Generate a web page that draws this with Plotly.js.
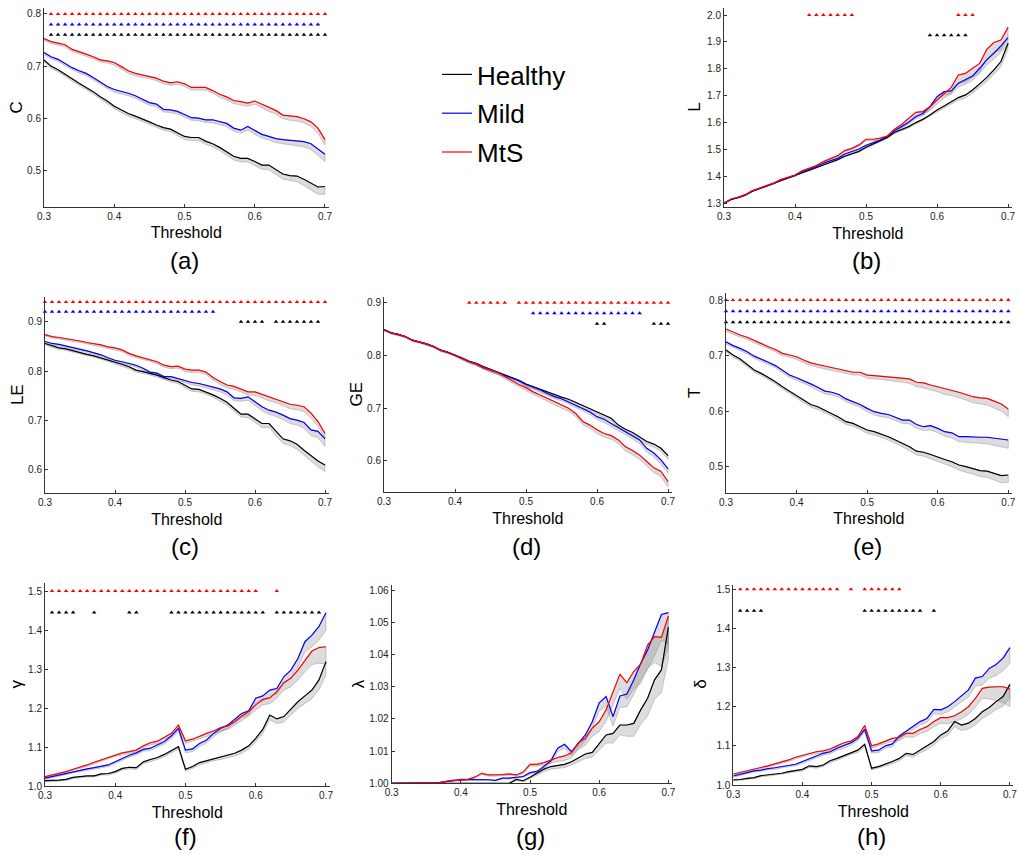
<!DOCTYPE html>
<html><head><meta charset="utf-8">
<script src="https://cdn.plot.ly/plotly-3.0.1.min.js"></script>
<style>html,body{margin:0;padding:0;background:#fff}#chart{width:1018px;height:857px}</style>
</head><body><div id="chart"></div>
<script>
// ---------------- DATA ----------------
const thr = [0.30,0.31,0.32,0.33,0.34,0.35,0.36,0.37,0.38,0.39,0.40,0.41,0.42,0.43,0.44,0.45,0.46,0.47,0.48,0.49,0.50,0.51,0.52,0.53,0.54,0.55,0.56,0.57,0.58,0.59,0.60,0.61,0.62,0.63,0.64,0.65,0.66,0.67,0.68,0.69,0.70];
const xTickVals = [0.3,0.4,0.5,0.6,0.7];
const xTickText = ['0.3','0.4','0.5','0.6','0.7'];
const groupNames = ['Healthy','Mild','MtS'];

// (a) C
const C_H = [0.712,0.700,0.693,0.684,0.675,0.667,0.659,0.651,0.641,0.633,0.623,0.616,0.609,0.604,0.599,0.593,0.587,0.582,0.579,0.572,0.565,0.563,0.563,0.556,0.551,0.544,0.536,0.527,0.523,0.523,0.517,0.510,0.510,0.501,0.493,0.490,0.489,0.483,0.476,0.468,0.469];
const C_M = [0.726,0.718,0.713,0.705,0.697,0.691,0.686,0.678,0.669,0.661,0.655,0.652,0.648,0.643,0.636,0.630,0.627,0.617,0.616,0.613,0.607,0.601,0.600,0.597,0.597,0.593,0.590,0.581,0.577,0.584,0.576,0.569,0.565,0.561,0.559,0.558,0.556,0.555,0.551,0.541,0.531];
const C_S = [0.753,0.747,0.744,0.741,0.732,0.728,0.723,0.718,0.712,0.710,0.707,0.699,0.691,0.686,0.683,0.681,0.677,0.671,0.668,0.670,0.666,0.659,0.659,0.659,0.653,0.646,0.641,0.634,0.632,0.629,0.633,0.627,0.620,0.615,0.606,0.604,0.603,0.599,0.593,0.581,0.559];
const C_H_err = [4,4,4,4,4,4,4,4,4,5,5,5,5,5,5,5,5,5,5,6,6,6,6,6,6,6,7,7,7,7,8,8,9,9,10,10,11,12,13,14,15];
const C_M_err = [4,4,4,4,4,4,4,4,4,4,5,5,5,5,5,5,5,5,5,5,5,5,5,5,6,6,6,6,6,7,7,7,7,8,8,8,9,10,11,12,14];
const C_S_err = [4,4,4,4,4,4,4,4,4,4,5,5,5,5,5,5,5,5,5,5,5,5,5,5,5,6,6,6,6,6,6,7,7,7,7,8,8,8,9,10,11];
const C_sigS = [0.31,0.32,0.33,0.34,0.35,0.36,0.37,0.38,0.39,0.40,0.41,0.42,0.43,0.44,0.45,0.46,0.47,0.48,0.49,0.50,0.51,0.52,0.53,0.54,0.55,0.56,0.57,0.58,0.59,0.60,0.61,0.62,0.63,0.64,0.65,0.66,0.67,0.68,0.69,0.70];
const C_sigM = [0.31,0.32,0.33,0.34,0.35,0.36,0.37,0.38,0.39,0.40,0.41,0.42,0.43,0.44,0.45,0.46,0.47,0.48,0.49,0.50,0.51,0.52,0.53,0.54,0.55,0.56,0.57,0.58,0.59,0.60,0.61,0.62,0.63,0.64,0.65,0.66,0.67,0.68,0.69];
const C_sigH = [0.31,0.32,0.33,0.34,0.35,0.36,0.37,0.38,0.39,0.40,0.41,0.42,0.43,0.44,0.45,0.46,0.47,0.48,0.49,0.50,0.51,0.52,0.53,0.54,0.55,0.56,0.57,0.58,0.59,0.60,0.61,0.62,0.63,0.64,0.65,0.66,0.67,0.68,0.69,0.70];

// (b) L
const L_H = [1.300,1.314,1.321,1.330,1.345,1.355,1.363,1.373,1.385,1.394,1.403,1.415,1.424,1.433,1.445,1.454,1.462,1.475,1.485,1.493,1.508,1.520,1.533,1.545,1.563,1.573,1.585,1.600,1.612,1.628,1.647,1.662,1.678,1.693,1.703,1.721,1.744,1.768,1.796,1.827,1.895];
const L_M = [1.300,1.315,1.322,1.331,1.346,1.356,1.364,1.374,1.387,1.395,1.404,1.418,1.426,1.436,1.449,1.457,1.467,1.483,1.492,1.502,1.516,1.525,1.535,1.550,1.570,1.585,1.601,1.622,1.634,1.659,1.696,1.715,1.718,1.746,1.758,1.773,1.802,1.833,1.858,1.885,1.916];
const L_S = [1.300,1.316,1.323,1.332,1.347,1.357,1.365,1.375,1.388,1.396,1.405,1.421,1.430,1.440,1.455,1.466,1.477,1.496,1.504,1.517,1.538,1.538,1.542,1.550,1.575,1.593,1.616,1.638,1.641,1.659,1.684,1.709,1.731,1.777,1.783,1.802,1.820,1.872,1.898,1.907,1.954];
const L_H_err = [2,2,2,2,2,2,2,2,2,2,3,3,3,3,3,3,3,3,3,3,4,4,4,4,4,5,5,6,6,7,8,8,9,10,11,12,13,15,17,19,20];
const L_M_err = [2,2,2,2,2,2,2,2,2,2,3,3,3,3,3,4,4,4,4,4,5,5,5,5,6,6,7,8,9,10,11,12,13,14,15,16,18,20,22,24,25];
const L_S_err = [2,2,2,2,2,2,2,2,2,2,3,3,3,3,4,4,4,5,5,5,6,6,6,7,8,9,10,11,12,14,16,18,22,30,32,33,34,35,36,36,35];
const L_sigS = [0.42,0.43,0.44,0.45,0.46,0.47,0.48,0.63,0.64,0.65];
const L_sigH = [0.59,0.60,0.61,0.62,0.63,0.64];

// (c) LE
const LE_H = [0.856,0.851,0.847,0.845,0.841,0.837,0.834,0.831,0.827,0.822,0.818,0.814,0.809,0.802,0.799,0.796,0.792,0.787,0.782,0.779,0.771,0.764,0.763,0.758,0.752,0.745,0.737,0.725,0.713,0.713,0.703,0.694,0.694,0.678,0.663,0.659,0.652,0.640,0.629,0.618,0.610];
const LE_M = [0.860,0.856,0.854,0.851,0.847,0.844,0.841,0.837,0.833,0.827,0.822,0.819,0.816,0.812,0.806,0.798,0.796,0.789,0.789,0.785,0.782,0.777,0.775,0.771,0.767,0.764,0.758,0.746,0.745,0.748,0.738,0.728,0.721,0.717,0.711,0.704,0.701,0.696,0.681,0.678,0.663];
const LE_S = [0.874,0.870,0.868,0.866,0.863,0.861,0.858,0.856,0.853,0.849,0.847,0.843,0.836,0.831,0.827,0.824,0.819,0.812,0.809,0.810,0.804,0.802,0.802,0.798,0.787,0.779,0.772,0.769,0.764,0.758,0.758,0.753,0.748,0.744,0.738,0.733,0.731,0.728,0.715,0.698,0.674];
const LE_H_err = [3,3,3,3,3,3,3,3,3,3,4,4,4,4,4,4,4,4,4,4,5,5,5,5,5,6,6,6,6,7,7,8,8,9,9,10,10,11,11,12,13];
const LE_M_err = [3,3,3,3,3,3,3,3,3,3,4,4,4,4,4,4,4,4,4,4,5,5,5,5,5,6,6,6,6,7,7,8,8,9,9,10,10,11,12,13,15];
const LE_S_err = [3,3,3,3,3,3,3,3,3,3,4,4,4,4,4,4,4,4,4,4,5,5,5,5,5,6,6,6,6,7,7,7,8,8,8,9,9,10,10,10,10];
const LE_sigS = [0.30,0.31,0.32,0.33,0.34,0.35,0.36,0.37,0.38,0.39,0.40,0.41,0.42,0.43,0.44,0.45,0.46,0.47,0.48,0.49,0.50,0.51,0.52,0.53,0.54,0.55,0.56,0.57,0.58,0.59,0.60,0.61,0.62,0.63,0.64,0.65,0.66,0.67,0.68,0.69,0.70];
const LE_sigM = [0.30,0.31,0.32,0.33,0.34,0.35,0.36,0.37,0.38,0.39,0.40,0.41,0.42,0.43,0.44,0.45,0.46,0.47,0.48,0.49,0.50,0.51,0.52,0.53,0.54];
const LE_sigH = [0.58,0.59,0.60,0.61,0.63,0.64,0.65,0.66,0.67,0.68,0.69];

// (d) GE
const GE_H = [0.849,0.843,0.840,0.836,0.829,0.826,0.822,0.817,0.810,0.806,0.801,0.795,0.789,0.785,0.779,0.774,0.769,0.763,0.759,0.753,0.746,0.741,0.736,0.731,0.725,0.721,0.717,0.711,0.705,0.700,0.693,0.687,0.681,0.668,0.660,0.654,0.646,0.637,0.632,0.624,0.610];
const GE_M = [0.849,0.843,0.840,0.836,0.829,0.826,0.822,0.817,0.810,0.806,0.801,0.795,0.789,0.784,0.777,0.773,0.768,0.762,0.757,0.752,0.745,0.740,0.735,0.728,0.722,0.718,0.712,0.706,0.700,0.693,0.684,0.679,0.671,0.663,0.656,0.648,0.640,0.624,0.615,0.602,0.585];
const GE_S = [0.849,0.843,0.840,0.836,0.829,0.826,0.822,0.817,0.810,0.806,0.801,0.795,0.788,0.784,0.777,0.772,0.768,0.760,0.752,0.745,0.739,0.731,0.725,0.719,0.712,0.706,0.700,0.690,0.675,0.668,0.659,0.652,0.648,0.640,0.627,0.620,0.611,0.599,0.587,0.580,0.561];
const GE_H_err = [2,2,2,2,2,2,2,2,2,2,2,3,3,3,3,3,3,3,3,3,4,4,4,4,4,4,4,4,5,5,5,5,5,5,5,6,6,6,6,6,7];
const GE_M_err = [2,2,2,2,2,2,2,2,2,2,2,3,3,3,3,3,3,3,3,3,4,4,4,4,4,4,5,5,5,5,5,6,6,6,6,6,7,7,7,8,8];
const GE_S_err = [2,2,2,2,2,2,2,2,2,2,2,3,3,3,3,4,4,4,4,4,5,5,5,5,5,6,6,6,6,6,7,7,7,7,8,8,8,9,9,10,10];
const GE_sigS = [0.42,0.43,0.44,0.45,0.46,0.47,0.49,0.50,0.51,0.52,0.53,0.54,0.55,0.56,0.57,0.58,0.59,0.60,0.61,0.62,0.63,0.64,0.65,0.66,0.67,0.68,0.69,0.70];
const GE_sigM = [0.51,0.52,0.53,0.54,0.55,0.56,0.57,0.58,0.59,0.60,0.61,0.62,0.63,0.64,0.65,0.66];
const GE_sigH = [0.60,0.61,0.68,0.69,0.70];

// (e) T
const T_H = [0.710,0.701,0.694,0.684,0.674,0.668,0.661,0.653,0.644,0.636,0.629,0.620,0.612,0.608,0.602,0.596,0.589,0.581,0.578,0.572,0.566,0.563,0.559,0.554,0.548,0.542,0.536,0.528,0.526,0.522,0.517,0.513,0.509,0.503,0.500,0.497,0.493,0.492,0.488,0.484,0.485];
const T_M = [0.725,0.718,0.713,0.707,0.699,0.694,0.688,0.682,0.673,0.665,0.660,0.655,0.649,0.643,0.636,0.634,0.630,0.622,0.617,0.612,0.605,0.599,0.596,0.594,0.589,0.584,0.584,0.576,0.572,0.574,0.569,0.563,0.561,0.554,0.554,0.553,0.553,0.553,0.551,0.550,0.548];
const T_S = [0.748,0.742,0.737,0.733,0.727,0.721,0.716,0.711,0.704,0.701,0.698,0.692,0.687,0.684,0.681,0.678,0.675,0.673,0.670,0.670,0.665,0.664,0.663,0.662,0.661,0.659,0.658,0.652,0.651,0.647,0.644,0.640,0.638,0.634,0.630,0.626,0.624,0.623,0.618,0.613,0.604];
const T_H_err = [4,4,4,4,4,4,4,4,4,4,5,5,5,5,5,5,5,5,5,5,6,6,6,6,6,6,7,7,7,8,8,8,9,9,10,10,11,11,12,13,13];
const T_M_err = [4,4,4,4,4,4,4,4,4,4,5,5,5,5,5,5,5,5,5,5,6,6,6,6,6,6,7,7,7,8,8,8,9,9,10,10,11,12,13,14,15];
const T_S_err = [4,4,4,4,4,4,4,4,4,4,5,5,5,5,5,5,5,5,5,5,6,6,6,6,7,7,8,8,9,9,9,10,10,10,10,11,11,12,13,13,14];
const T_sigS = [0.30,0.31,0.32,0.33,0.34,0.35,0.36,0.37,0.38,0.39,0.40,0.41,0.42,0.43,0.44,0.45,0.46,0.47,0.48,0.49,0.50,0.51,0.52,0.53,0.54,0.55,0.56,0.57,0.58,0.59,0.60,0.61,0.62,0.63,0.64,0.65,0.66,0.67,0.68,0.69,0.70];
const T_sigM = [0.30,0.31,0.32,0.33,0.34,0.35,0.36,0.37,0.38,0.39,0.40,0.41,0.42,0.43,0.44,0.45,0.46,0.47,0.48,0.49,0.50,0.51,0.52,0.53,0.54,0.55,0.56,0.57,0.58,0.59,0.60,0.61,0.62,0.63,0.64,0.65,0.66,0.67,0.68,0.69,0.70];
const T_sigH = [0.30,0.31,0.32,0.33,0.34,0.35,0.36,0.37,0.38,0.39,0.40,0.41,0.42,0.43,0.44,0.45,0.46,0.47,0.48,0.49,0.50,0.51,0.52,0.53,0.54,0.55,0.56,0.57,0.58,0.59,0.60,0.61,0.62,0.63,0.64,0.65,0.66,0.67,0.68,0.69,0.70];

// (f) gamma
const G_H = [1.014,1.014,1.015,1.017,1.022,1.024,1.026,1.026,1.031,1.032,1.037,1.045,1.048,1.047,1.062,1.068,1.073,1.081,1.090,1.101,1.043,1.050,1.060,1.065,1.071,1.075,1.079,1.084,1.092,1.103,1.122,1.145,1.182,1.172,1.178,1.197,1.216,1.231,1.246,1.272,1.319];
const G_M = [1.020,1.024,1.028,1.032,1.037,1.041,1.044,1.047,1.050,1.054,1.062,1.071,1.079,1.085,1.094,1.097,1.105,1.114,1.129,1.148,1.092,1.095,1.109,1.118,1.135,1.148,1.156,1.171,1.186,1.193,1.225,1.231,1.246,1.250,1.280,1.297,1.327,1.370,1.387,1.409,1.444];
const G_S = [1.024,1.028,1.032,1.037,1.043,1.048,1.054,1.061,1.067,1.074,1.081,1.085,1.088,1.092,1.103,1.111,1.115,1.126,1.135,1.156,1.116,1.120,1.128,1.135,1.141,1.150,1.154,1.165,1.179,1.191,1.208,1.222,1.226,1.242,1.265,1.276,1.297,1.323,1.346,1.355,1.357];
const G_H_err = [3,3,3,3,3,3,3,3,3,4,4,4,4,5,5,5,5,6,6,6,5,5,6,6,6,7,7,7,8,8,9,10,12,12,14,15,17,19,22,25,35];
const G_M_err = [3,3,3,3,3,4,4,4,4,4,5,5,5,5,5,6,6,6,7,8,7,7,8,8,8,9,9,10,10,11,12,13,14,15,17,19,22,26,30,35,45];
const G_S_err = [3,3,3,3,3,3,4,4,4,4,5,5,5,5,5,6,6,6,7,8,7,7,7,8,8,9,9,10,11,12,13,14,15,17,19,22,25,30,35,40,45];
const G_sigS = [0.31,0.32,0.33,0.34,0.35,0.36,0.37,0.38,0.39,0.40,0.41,0.42,0.43,0.44,0.45,0.46,0.47,0.48,0.49,0.50,0.51,0.52,0.53,0.54,0.55,0.56,0.57,0.58,0.59,0.60,0.63];
const G_sigH = [0.31,0.32,0.33,0.34,0.37,0.42,0.43,0.48,0.49,0.50,0.51,0.52,0.53,0.54,0.55,0.56,0.57,0.58,0.59,0.60,0.61,0.63,0.64,0.65,0.66,0.67,0.68,0.69];

// (g) lambda
const LAM_H = [1.0000,1.0000,1.0000,1.0000,1.0000,1.0000,1.0000,1.0000,1.0000,1.0000,1.0000,1.0000,1.0000,1.0000,1.0000,1.0000,1.0000,1.0000,1.0012,1.0008,1.0019,1.0031,1.0044,1.0052,1.0055,1.0059,1.0067,1.0078,1.0091,1.0096,1.0124,1.0150,1.0155,1.0181,1.0181,1.0186,1.0228,1.0264,1.0321,1.0352,1.0484];
const LAM_M = [1.0000,1.0000,1.0000,1.0000,1.0000,1.0001,1.0002,1.0003,1.0005,1.0008,1.0012,1.0012,1.0012,1.0012,1.0011,1.0009,1.0016,1.0016,1.0019,1.0021,1.0033,1.0037,1.0052,1.0070,1.0109,1.0121,1.0098,1.0124,1.0150,1.0191,1.0250,1.0269,1.0207,1.0271,1.0277,1.0321,1.0372,1.0414,1.0466,1.0524,1.0530];
const LAM_S = [1.0000,1.0000,1.0000,1.0000,1.0000,1.0000,1.0001,1.0002,1.0007,1.0010,1.0010,1.0012,1.0019,1.0031,1.0026,1.0026,1.0027,1.0029,1.0026,1.0035,1.0059,1.0059,1.0064,1.0072,1.0080,1.0085,1.0095,1.0126,1.0140,1.0171,1.0191,1.0228,1.0284,1.0339,1.0312,1.0347,1.0370,1.0429,1.0455,1.0453,1.0519];
const LAM_H_err = [0,0,0,0,0,0,0,0,0,0,0,0,0,0,0,0,0,2,3,4,5,6,8,8,9,10,10,12,14,15,20,25,30,30,35,40,45,55,60,70,100];
const LAM_M_err = [0,0,0,0,0,0,0,0,1,1,2,2,2,2,2,2,3,3,3,3,5,5,6,8,10,12,12,15,18,20,25,30,30,35,40,45,50,60,70,80,100];
const LAM_S_err = [0,0,0,0,0,0,0,0,2,2,2,3,3,4,4,4,4,4,4,5,6,6,8,10,12,14,16,20,22,25,30,35,40,45,50,55,60,70,80,90,100];

// (h) delta
const D_H = [1.013,1.014,1.017,1.019,1.024,1.026,1.028,1.030,1.034,1.037,1.040,1.049,1.047,1.051,1.062,1.068,1.075,1.083,1.089,1.104,1.043,1.047,1.053,1.060,1.068,1.081,1.078,1.089,1.098,1.111,1.128,1.138,1.162,1.153,1.158,1.170,1.187,1.198,1.213,1.226,1.257];
const D_M = [1.023,1.027,1.032,1.036,1.038,1.042,1.044,1.047,1.051,1.053,1.060,1.068,1.074,1.081,1.085,1.094,1.100,1.108,1.119,1.142,1.087,1.089,1.100,1.105,1.125,1.138,1.149,1.162,1.170,1.193,1.192,1.200,1.213,1.227,1.243,1.273,1.277,1.298,1.308,1.324,1.351];
const D_S = [1.028,1.032,1.036,1.040,1.045,1.049,1.054,1.059,1.064,1.071,1.076,1.081,1.085,1.087,1.092,1.100,1.108,1.112,1.124,1.152,1.100,1.105,1.113,1.119,1.122,1.132,1.132,1.142,1.149,1.162,1.172,1.172,1.177,1.187,1.200,1.221,1.247,1.250,1.251,1.251,1.245];
const D_H_err = [3,3,3,3,3,3,3,3,3,4,4,4,4,4,5,5,5,5,6,6,5,5,5,6,6,6,7,7,8,9,10,11,13,14,15,16,17,18,20,25,35];
const D_M_err = [3,3,3,3,3,3,4,4,4,4,4,4,5,5,5,5,6,6,6,7,6,6,6,7,7,8,8,9,10,11,12,13,14,16,18,20,22,25,28,32,40];
const D_S_err = [3,3,3,3,3,3,4,4,4,4,4,4,5,5,5,5,6,6,6,7,6,6,7,7,8,9,10,11,12,13,14,15,16,18,20,22,25,30,35,40,45];
const D_sigS = [0.31,0.32,0.33,0.34,0.35,0.36,0.37,0.38,0.39,0.40,0.41,0.42,0.43,0.44,0.45,0.47,0.49,0.50,0.51,0.52,0.53,0.54];
const D_sigH = [0.31,0.32,0.33,0.34,0.49,0.50,0.51,0.52,0.53,0.54,0.55,0.56,0.57,0.59];

// ---------------- STYLE / LAYOUT ----------------
const W = 1018, H = 857;
const FONT = 'Liberation Sans, Arial, Helvetica, sans-serif';
const COL = {H:'#000000', M:'#0000ff', S:'#ff0000'};
const NAME = {H:groupNames[0], M:groupNames[1], S:groupNames[2]};

const panels = [
  {lab:'(a)', yt:'C',  d:{H:C_H,M:C_M,S:C_S}, e:{H:C_H_err,M:C_M_err,S:C_S_err}, es:0.001,
   sig:[[C_sigS,0.80,'S'],[C_sigM,0.78,'M'],[C_sigH,0.76,'H']],
   xpx:[44,328.5], ypx:[8,206.8], yr:[0.43,0.8115], yticks:[0.5,0.6,0.7,0.8], fmt:1, labY:260, ytX:16},
  {lab:'(b)', yt:'L',  d:{H:L_H,M:L_M,S:L_S}, e:{H:L_H_err,M:L_M_err,S:L_S_err}, es:0.001,
   sig:[[L_sigS,2.0,'S'],[L_sigH,1.925,'H']],
   xpx:[724,1011.6], ypx:[8.3,207.3], yr:[1.285,2.025], yticks:[1.3,1.4,1.5,1.6,1.7,1.8,1.9,2.0], fmt:1, labY:260, ytX:695},
  {lab:'(c)', yt:'LE', d:{H:LE_H,M:LE_M,S:LE_S}, e:{H:LE_H_err,M:LE_M_err,S:LE_S_err}, es:0.001,
   sig:[[LE_sigS,0.94,'S'],[LE_sigM,0.92,'M'],[LE_sigH,0.90,'H']],
   xpx:[45,328.5], ypx:[297,493.2], yr:[0.553,0.95], yticks:[0.6,0.7,0.8,0.9], fmt:1, labY:546.7, ytX:17},
  {lab:'(d)', yt:'GE', d:{H:GE_H,M:GE_M,S:GE_S}, e:{H:GE_H_err,M:GE_M_err,S:GE_S_err}, es:0.001,
   sig:[[GE_sigS,0.90,'S'],[GE_sigM,0.88,'M'],[GE_sigH,0.86,'H']],
   xpx:[384,671.6], ypx:[296.9,492.1], yr:[0.541,0.911], yticks:[0.6,0.7,0.8,0.9], fmt:1, labY:546.7, ytX:356},
  {lab:'(e)', yt:'T',  d:{H:T_H,M:T_M,S:T_S}, e:{H:T_H_err,M:T_M_err,S:T_S_err}, es:0.001,
   sig:[[T_sigS,0.80,'S'],[T_sigM,0.78,'M'],[T_sigH,0.76,'H']],
   xpx:[726,1011.8], ypx:[293.1,492.8], yr:[0.453,0.8125], yticks:[0.5,0.6,0.7,0.8], fmt:1, labY:546.7, ytX:695},
  {lab:'(f)', yt:'γ',  d:{H:G_H,M:G_M,S:G_S}, e:{H:G_H_err,M:G_M_err,S:G_S_err}, es:0.001,
   sig:[[G_sigS,1.5,'S'],[G_sigH,1.445,'H']],
   xpx:[45,329.5], ypx:[583.2,786], yr:[1.0,1.52], yticks:[1.0,1.1,1.2,1.3,1.4,1.5], fmt:1, labY:836.7, ytX:17},
  {lab:'(g)', yt:'λ',  d:{H:LAM_H,M:LAM_M,S:LAM_S}, e:{H:LAM_H_err,M:LAM_M_err,S:LAM_S_err}, es:0.0001,
   sig:[],
   xpx:[391.7,671.8], ypx:[585.2,783.3], yr:[1.0,1.0615], yticks:[1.00,1.01,1.02,1.03,1.04,1.05,1.06], fmt:2, labY:836.7, ytX:358},
  {lab:'(h)', yt:'δ',  d:{H:D_H,M:D_M,S:D_S}, e:{H:D_H_err,M:D_M_err,S:D_S_err}, es:0.001,
   sig:[[D_sigS,1.5,'S'],[D_sigH,1.445,'H']],
   xpx:[733.3,1013.4], ypx:[584.6,785], yr:[1.0,1.512], yticks:[1.0,1.1,1.2,1.3,1.4,1.5], fmt:1, labY:836.7, ytX:701}
];

const traces = [];
const layout = {
  width: W, height: H, margin:{l:0,r:0,t:0,b:0},
  paper_bgcolor:'#ffffff', plot_bgcolor:'#ffffff',
  font:{family:FONT, color:'#000'},
  showlegend:true,
  legend:{x:437/W, y:1-51/H, xanchor:'left', yanchor:'top', font:{family:FONT, size:26, color:'#000'},
          bgcolor:'rgba(0,0,0,0)', traceorder:'grouped', tracegroupgap:2, itemwidth:30},
  annotations:[]
};

panels.forEach((p, k) => {
  const n = k === 0 ? '' : String(k+1);
  const xa = 'x'+n, ya = 'y'+n;
  // bands
  ['H','M','S'].forEach(g => {
    const m = p.d[g], er = p.e[g];
    const lo = m.map((v,i) => v - er[i]*p.es);
    traces.push({x: thr.concat(thr.slice().reverse()), y: m.concat(lo.slice().reverse()),
      xaxis:xa, yaxis:ya, mode:'lines', fill:'toself', fillcolor:'rgba(128,128,128,0.28)',
      line:{color:'rgba(110,110,110,0.55)', width:0.6}, hoverinfo:'skip', showlegend:false});
  });
  // mean lines
  ['H','M','S'].forEach(g => {
    traces.push({x: thr, y: p.d[g], xaxis:xa, yaxis:ya, mode:'lines', name:NAME[g],
      legendgroup:g, showlegend:k===0, line:{color:COL[g], width:1.2}});
  });
  // significance markers
  p.sig.forEach(s => {
    traces.push({x: s[0], y: s[0].map(() => s[1]), xaxis:xa, yaxis:ya, mode:'markers',
      marker:{symbol:'triangle-up', size:4, color:COL[s[2]]}, showlegend:false, hoverinfo:'skip', cliponaxis:false});
  });
  const axBase = {showline:true, linecolor:'#333', linewidth:1, ticks:'inside', ticklen:3, tickcolor:'#333',
    showgrid:false, zeroline:false, tickfont:{family:FONT, size:10, color:'#222'}, fixedrange:true};
  layout['xaxis'+n] = Object.assign({}, axBase, {domain:[p.xpx[0]/W, p.xpx[1]/W], anchor:ya,
    range:[0.3,0.705], tickvals:xTickVals, ticktext:xTickText,
    title:{text:'Threshold', font:{family:FONT, size:16, color:'#000'}, standoff:6}});
  layout['yaxis'+n] = Object.assign({}, axBase, {domain:[1-p.ypx[1]/H, 1-p.ypx[0]/H], anchor:xa,
    range:p.yr, tickvals:p.yticks, ticktext:p.yticks.map(v => v.toFixed(p.fmt))});
  // y-axis title (rotated text)
  layout.annotations.push({text:p.yt, xref:'paper', yref:'paper', x:p.ytX/W, y:1-(p.ypx[0]+p.ypx[1])/2/H,
    xanchor:'center', yanchor:'middle', textangle:-90, showarrow:false, font:{family:FONT, size:17, color:'#000'}});
  // panel label
  layout.annotations.push({text:p.lab, xref:'paper', yref:'paper', x:(p.xpx[0]+p.xpx[0]+0.4*(p.xpx[1]-p.xpx[0])/0.405)/2/W,
    y:1-p.labY/H, xanchor:'center', yanchor:'middle', showarrow:false, font:{family:FONT, size:24, color:'#000'}});
});

Plotly.newPlot('chart', traces, layout, {displayModeBar:false, staticPlot:true});
</script>
</body></html>
